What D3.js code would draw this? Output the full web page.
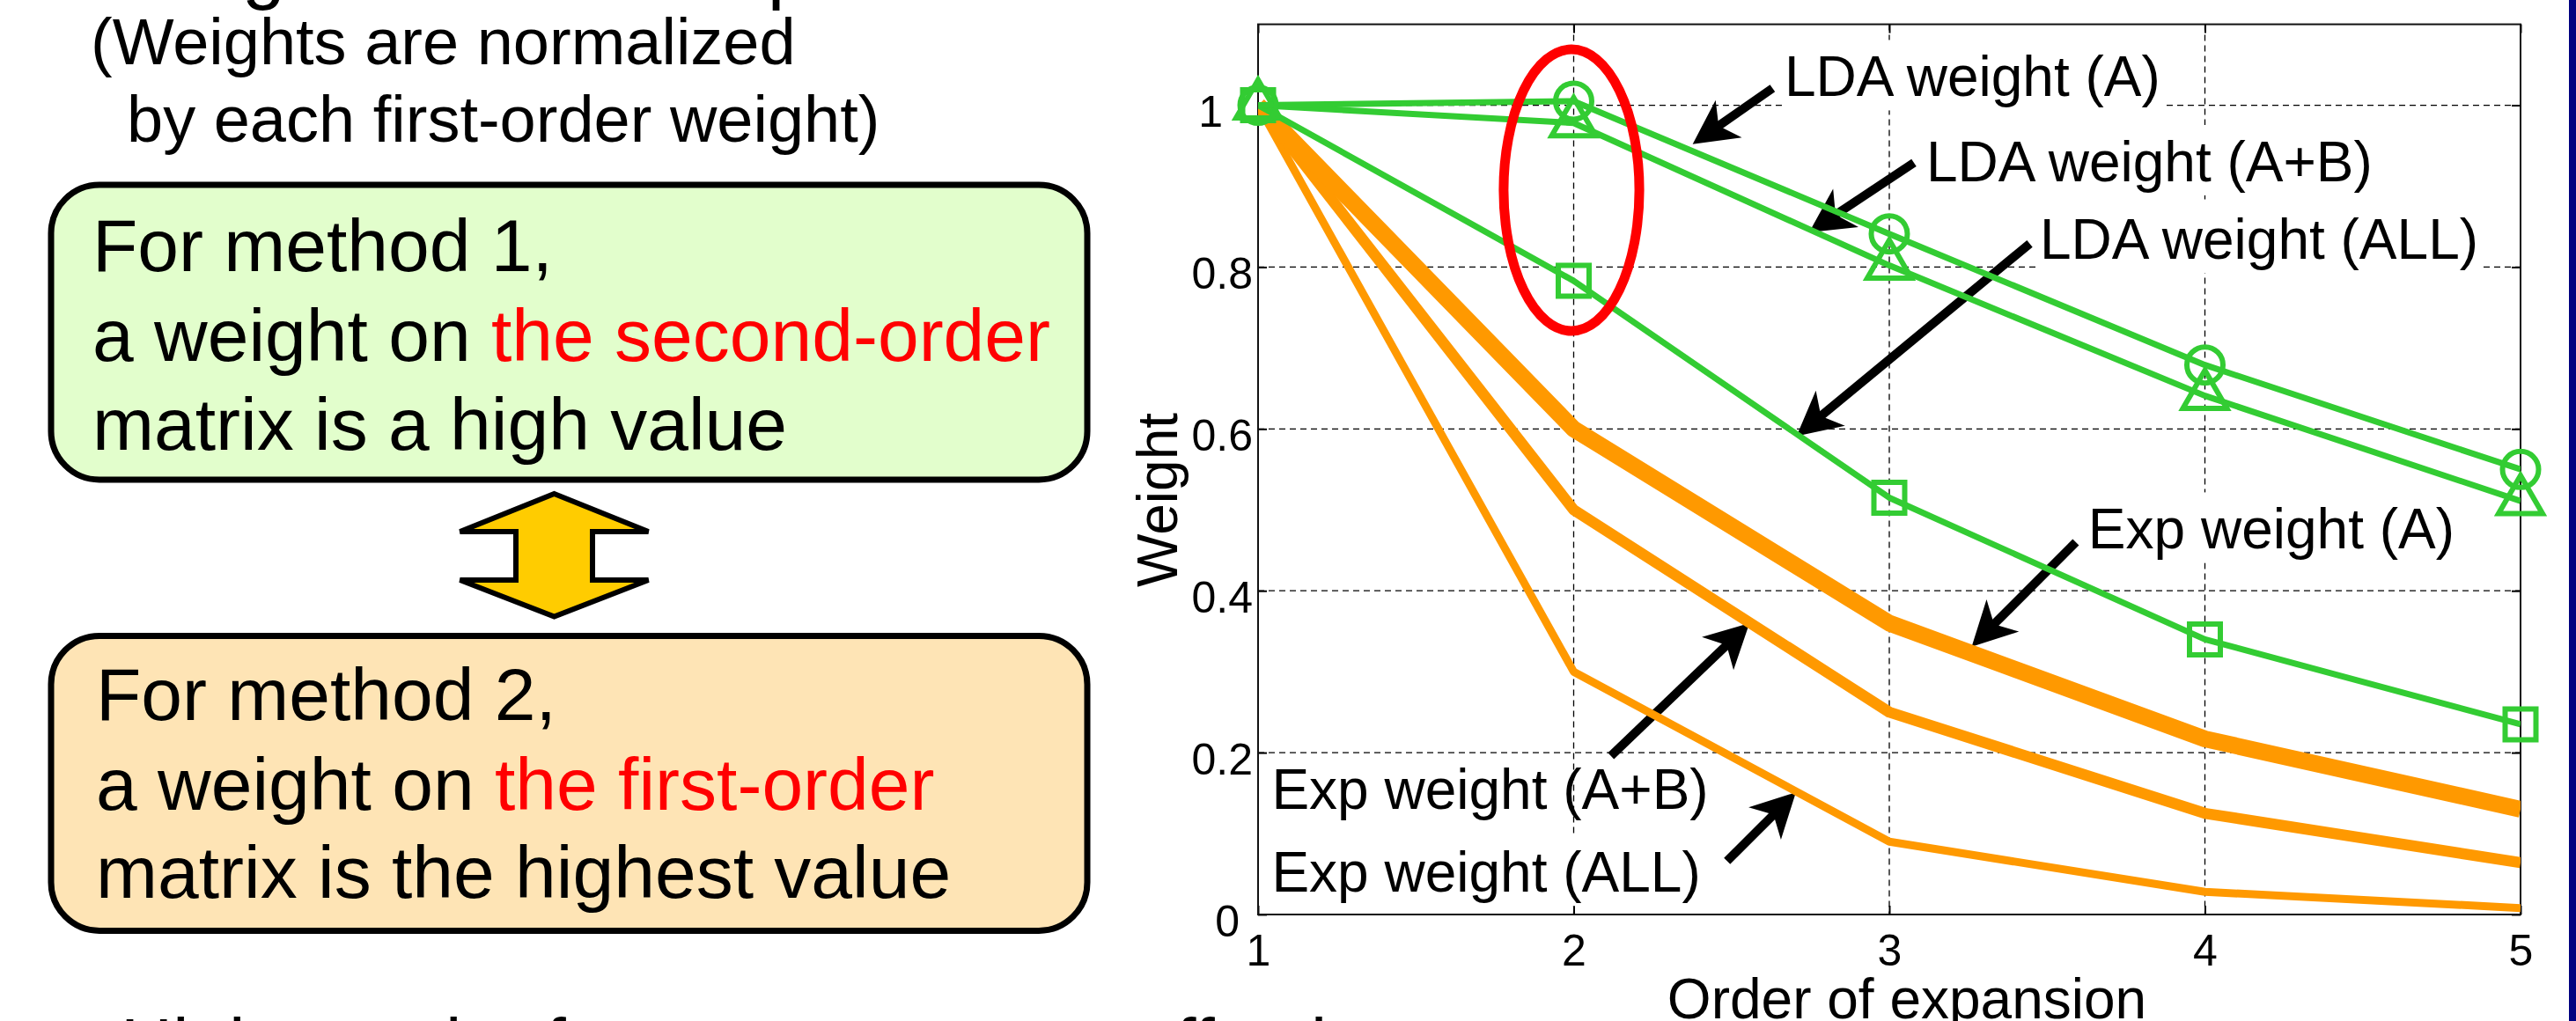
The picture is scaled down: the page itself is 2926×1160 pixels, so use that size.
<!DOCTYPE html>
<html>
<head>
<meta charset="utf-8">
<script src="https://cdn.jsdelivr.net/npm/d3@7"></script>
<style>
  html, body { margin: 0; padding: 0; background: #fff; }
  svg { display: block; font-family: "Liberation Sans", Arial, Helvetica, sans-serif; }
</style>
</head>
<body>
<svg id="slide" width="2926" height="1160"></svg>
<script>
// ---- data ---------------------------------------------------------------
// order of expansion (x axis)
const orders = [1, 2, 3, 4, 5];
// weights normalized by the first-order weight of each method
const ldaA   = [1, 1.005, 0.841, 0.679, 0.550];
const ldaAB  = [1, 0.978, 0.802, 0.641, 0.511];
const ldaALL = [1, 0.783, 0.515, 0.340, 0.235];
const expA   = [1, 0.600, 0.360, 0.217, 0.130];
const expAB  = [1, 0.500, 0.250, 0.125, 0.064];
const expALL = [1, 0.300, 0.090, 0.028, 0.008];

const xTicks = [1, 2, 3, 4, 5];
const xTickLabels = ["1", "2", "3", "4", "5"];
const yTicks = [0, 0.2, 0.4, 0.6, 0.8, 1];
const yTickLabels = ["0", "0.2", "0.4", "0.6", "0.8", "1"];

const seriesLabels = ["Exp weight (ALL)", "Exp weight (A+B)", "Exp weight (A)",
                      "LDA weight (ALL)", "LDA weight (A+B)", "LDA weight (A)"];

// ---- layout -------------------------------------------------------------
const W = 2926, H = 1160;
const FONT = '"Liberation Sans", Arial, Helvetica, sans-serif';
const GREEN = "#33cc33", ORANGE = "#ff9900", RED = "#ff0000";
const plot = { left: 1429, right: 2863, top: 27.6, bottom: 1039 };

const svg = d3.select("#slide");
svg.append("rect").attr("width", W).attr("height", H).attr("fill", "#fff");

const x = d3.scaleLinear().domain([1, 5]).range([plot.left, plot.right]);
const y = d3.scaleLinear().domain([0, 1.1]).range([plot.bottom, plot.top]);

// ---- left panel: explanatory text ---------------------------------------
const left = svg.append("g").attr("font-family", FONT).attr("fill", "#000");

left.append("text").attr("x", 125).attr("y", -6.5).attr("font-size", 88)
  .text("Weights of each expansion order");

const noteLines = ["(Weights are normalized", "by each first-order weight)"];
left.append("text").attr("x", 103).attr("y", 72.7).attr("font-size", 74).text(noteLines[0]);
left.append("text").attr("x", 144).attr("y", 160.7).attr("font-size", 74).text(noteLines[1]);

const method1 = [
  [["For method 1,", "#000"]],
  [["a weight on ", "#000"], ["the second-order", RED]],
  [["matrix is a high value", "#000"]]
];
const method2 = [
  [["For method 2,", "#000"]],
  [["a weight on ", "#000"], ["the first-order", RED]],
  [["matrix is the highest value", "#000"]]
];

function drawBox(top, fill, lines, textX, baselines) {
  left.append("rect")
    .attr("x", 58).attr("y", top).attr("width", 1177).attr("height", 335)
    .attr("rx", 55).attr("ry", 55)
    .attr("fill", fill).attr("stroke", "#000").attr("stroke-width", 7);
  lines.forEach((segs, i) => {
    const t = left.append("text").attr("x", textX).attr("y", baselines[i]).attr("font-size", 84);
    segs.forEach(([s, c]) => t.append("tspan").attr("fill", c).text(s));
  });
}
drawBox(210, "#e2fecc", method1, 105, [308, 409.5, 511]);
drawBox(722.4, "#fee4b5", method2, 109, [817.7, 919.6, 1019.6]);

// two-headed arrow between the boxes
const cx = 629.5;
const dbl = [[0, 561], [107, 604], [43.5, 604], [43.5, 659], [107, 659],
             [0, 700.5], [-107, 659], [-43.5, 659], [-43.5, 604], [-107, 604]];
left.append("path")
  .attr("d", d3.line()(dbl.map(([dx, yy]) => [cx + dx, yy])) + "Z")
  .attr("fill", "#ffcc00").attr("stroke", "#000").attr("stroke-width", 6)
  .attr("stroke-linejoin", "miter");

// bottom line of the slide (mostly below the visible area)
left.append("text").attr("x", 137).attr("y", 1214).attr("font-size", 82)
  .text("Higher-order features are more effective");

// right-hand slide border
svg.append("rect").attr("x", 2918).attr("y", 0).attr("width", 8).attr("height", H).attr("fill", "#000080");

// ---- chart ----------------------------------------------------------------
const chart = svg.append("g").attr("font-family", FONT);

// dashed grid
const gridH = chart.append("g").attr("stroke", "#000").attr("stroke-width", 1.3).attr("stroke-dasharray", "7,5");
gridH.selectAll("line").data(yTicks.filter(v => v > 0)).join("line")
  .attr("x1", plot.left).attr("x2", plot.right)
  .attr("y1", d => y(d)).attr("y2", d => y(d));
const gridV = chart.append("g").attr("stroke", "#000").attr("stroke-width", 1.3).attr("stroke-dasharray", "7,5");
gridV.selectAll("line").data(xTicks.filter(v => v > 1 && v < 5)).join("line")
  .attr("y1", plot.top).attr("y2", plot.bottom)
  .attr("x1", d => x(d)).attr("x2", d => x(d));

// axes with inward ticks on all four sides
function styleAxis(g) {
  g.attr("font-family", FONT).attr("font-size", 50);
  g.select(".domain").remove();
  g.selectAll(".tick line").attr("stroke", "#000").attr("stroke-width", 2);
  g.selectAll(".tick text").attr("fill", "#000");
}
const axL = d3.axisLeft(y).tickValues(yTicks).tickFormat((d, i) => yTickLabels[i])
  .tickSizeInner(-10).tickSizeOuter(0).tickPadding(6);
const gL = chart.append("g").attr("transform", `translate(${plot.left},0)`).call(axL).call(styleAxis);
gL.selectAll(".tick text").attr("dy", "0.48em")
  .attr("x", d => (d === 1 ? -40 : d === 0 ? -21 : -6));

const axB = d3.axisBottom(x).tickValues(xTicks).tickFormat((d, i) => xTickLabels[i])
  .tickSizeInner(-10).tickSizeOuter(0).tickPadding(22.5);
chart.append("g").attr("transform", `translate(0,${plot.bottom})`).call(axB).call(styleAxis);

const axR = d3.axisRight(y).tickValues(yTicks).tickFormat(() => "").tickSizeInner(-10).tickSizeOuter(0);
chart.append("g").attr("transform", `translate(${plot.right},0)`).call(axR).call(styleAxis);
const axT = d3.axisTop(x).tickValues(xTicks).tickFormat(() => "").tickSizeInner(-10).tickSizeOuter(0);
chart.append("g").attr("transform", `translate(0,${plot.top})`).call(axT).call(styleAxis);

chart.append("rect")
  .attr("x", plot.left).attr("y", plot.top)
  .attr("width", plot.right - plot.left).attr("height", plot.bottom - plot.top)
  .attr("fill", "none").attr("stroke", "#111").attr("stroke-width", 2);

// axis titles
chart.append("text").attr("x", (plot.left + plot.right) / 2 + 20).attr("y", 1157)
  .attr("text-anchor", "middle").attr("font-size", 64).text("Order of expansion");
chart.append("text").attr("transform", "translate(1337,568) rotate(-90)")
  .attr("text-anchor", "middle").attr("font-size", 64).text("Weight");

// callouts: label anchor (left, baseline) and arrow tail/tip, in data units
const callouts = [
  { label: seriesLabels[5], tx: 2.668, ty: 1.011, box: true,  from: [2.630, 1.021], to: [2.377, 0.952] },
  { label: seriesLabels[4], tx: 3.117, ty: 0.906, box: true,  from: [3.078, 0.929], to: [2.746, 0.843] },
  { label: seriesLabels[3], tx: 3.477, ty: 0.810, box: true,  from: [3.445, 0.829], to: [2.706, 0.591] },
  { label: seriesLabels[2], tx: 3.630, ty: 0.452, box: true,  from: [3.591, 0.460], to: [3.261, 0.331] },
  { label: seriesLabels[1], tx: 1.043, ty: 0.131, box: false, from: [2.118, 0.196], to: [2.557, 0.360] },
  { label: seriesLabels[0], tx: 1.043, ty: 0.028, box: true,  from: [2.486, 0.066], to: [2.704, 0.151] }
];

// labels (white backing hides the grid behind most of them)
const labelLayer = chart.append("g").attr("font-size", 64).attr("fill", "#000");
callouts.forEach(c => {
  const g = labelLayer.append("g");
  const t = g.append("text").attr("x", x(c.tx)).attr("y", y(c.ty)).text(c.label);
  if (c.box) {
    const bb = t.node().getBBox();
    g.insert("rect", "text")
      .attr("x", bb.x - 3).attr("y", bb.y - 6)
      .attr("width", bb.width + 6).attr("height", bb.height + 8)
      .attr("fill", "#fff");
  }
});

// arrows with swept-back heads
const arrowLayer = chart.append("g");
function drawArrow(x0, y0, x1, y1) {
  const dx = x1 - x0, dy = y1 - y0, len = Math.hypot(dx, dy);
  const ux = dx / len, uy = dy / len, nx = -uy, ny = ux;
  const L = 50, HW = 26, k = 0.72;
  const bx = x1 - L * ux, by = y1 - L * uy;
  const mx = x1 - k * L * ux, my = y1 - k * L * uy;
  arrowLayer.append("line")
    .attr("x1", x0).attr("y1", y0).attr("x2", mx + 2 * ux).attr("y2", my + 2 * uy)
    .attr("stroke", "#000").attr("stroke-width", 10);
  arrowLayer.append("path")
    .attr("d", `M${x1},${y1}L${bx + HW * nx},${by + HW * ny}L${mx},${my}L${bx - HW * nx},${by - HW * ny}Z`)
    .attr("fill", "#000");
}
callouts.forEach(c => drawArrow(x(c.from[0]), y(c.from[1]), x(c.to[0]), y(c.to[1])));

// series
svg.append("clipPath").attr("id", "plotClip").append("rect")
  .attr("x", plot.left).attr("y", plot.top)
  .attr("width", plot.right - plot.left).attr("height", plot.bottom - plot.top);

const series = [
  { values: expALL, color: ORANGE, width: 9,    marker: null },
  { values: expAB,  color: ORANGE, width: 12.5, marker: null },
  { values: expA,   color: ORANGE, width: 19,   marker: null },
  { values: ldaALL, color: GREEN,  width: 7,    marker: d3.symbolSquare,   size: 1225 },
  { values: ldaAB,  color: GREEN,  width: 7,    marker: d3.symbolTriangle, size: 1082 },
  { values: ldaA,   color: GREEN,  width: 7,    marker: d3.symbolCircle,   size: 1320 }
];
const line = d3.line().x((d, i) => x(orders[i])).y(d => y(d));
const dataLayer = chart.append("g");
series.forEach(s => {
  dataLayer.append("path")
    .attr("d", line(s.values))
    .attr("clip-path", "url(#plotClip)")
    .attr("fill", "none").attr("stroke", s.color).attr("stroke-width", s.width)
    .attr("stroke-linejoin", "round").attr("stroke-linecap", "butt");
  if (s.marker) {
    dataLayer.append("g").selectAll("path").data(s.values).join("path")
      .attr("transform", (d, i) => `translate(${x(orders[i])},${y(d)})`)
      .attr("d", d3.symbol(s.marker, s.size))
      .attr("fill", "none").attr("stroke", s.color).attr("stroke-width", 6);
  }
});

// highlight around the second-order weights
const highlight = { x0: 1.778, x1: 2.208, y0: 0.721, y1: 1.069 };
chart.append("ellipse")
  .attr("cx", x((highlight.x0 + highlight.x1) / 2))
  .attr("cy", y((highlight.y0 + highlight.y1) / 2))
  .attr("rx", (x(highlight.x1) - x(highlight.x0)) / 2)
  .attr("ry", (y(highlight.y0) - y(highlight.y1)) / 2)
  .attr("fill", "none").attr("stroke", RED).attr("stroke-width", 11);
</script>
</body>
</html>
